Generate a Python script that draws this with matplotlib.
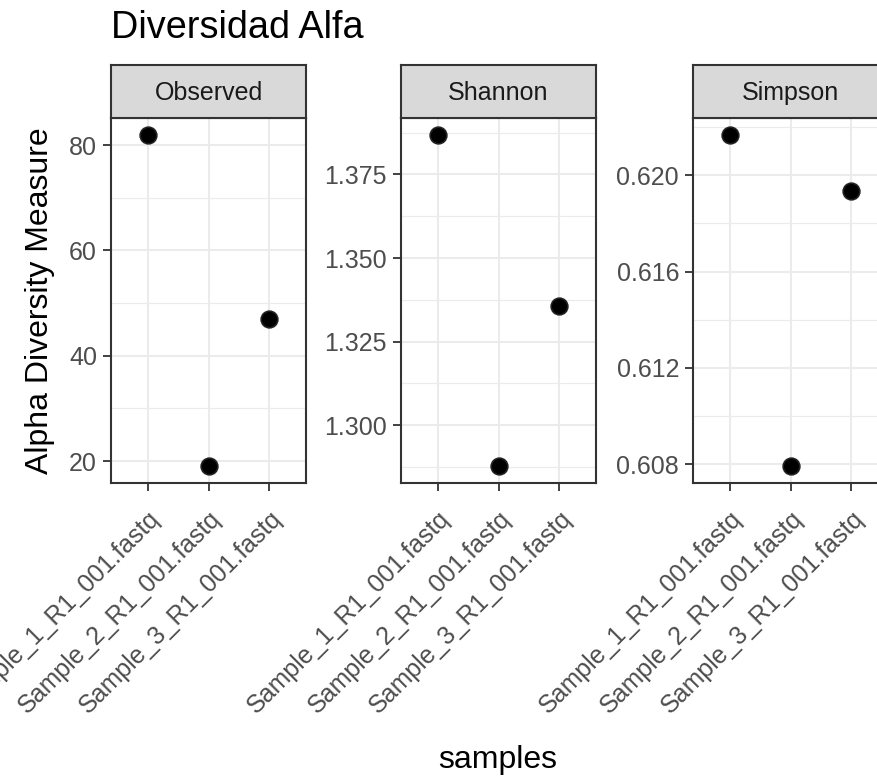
import matplotlib
matplotlib.use("Agg")
import matplotlib.pyplot as plt
from matplotlib.ticker import FixedLocator, FormatStrFormatter
import numpy as np

plt.rcParams['font.family'] = ['Liberation Sans', 'DejaVu Sans']

# ---- data ----
samples = ["Sample_1_R1_001.fastq", "Sample_2_R1_001.fastq", "Sample_3_R1_001.fastq"]
measures = ["Observed", "Shannon", "Simpson"]
observed = [82, 19, 47]
shannon = [1.3869, 1.2877, 1.3358]
simpson = [0.62169, 0.6079, 0.61936]
observed_ticks = [20, 40, 60, 80]
shannon_ticks = [1.300, 1.325, 1.350, 1.375]
simpson_ticks = [0.608, 0.612, 0.616, 0.620]

title = "Diversidad Alfa"
xlabel = "samples"
ylabel = "Alpha Diversity Measure"

W, H = 877, 776
fig = plt.figure(figsize=(W / 100, H / 100), dpi=100)

panel_left = [111, 401, 693]
panel_w = 195
panel_top, panel_bot = 118, 483
strip_top = 65

series = [observed, shannon, simpson]
ticks = [observed_ticks, shannon_ticks, simpson_ticks]
fmts = ["%d", "%.3f", "%.3f"]

grid_col = "#EBEBEB"
dark = "#333333"
tick_txt = "#4D4D4D"

for i, (name, vals, tk, fm) in enumerate(zip(measures, series, ticks, fmts)):
    l = panel_left[i]
    ax = fig.add_axes([l / W, 1 - panel_bot / H, panel_w / W, (panel_bot - panel_top) / H])
    x = np.arange(len(samples))
    vmin, vmax = min(vals), max(vals)
    pad = 0.05 * (vmax - vmin)
    ax.set_ylim(vmin - pad, vmax + pad)
    ax.set_xlim(-0.6, len(samples) - 1 + 0.6)
    step = tk[1] - tk[0]
    ax.yaxis.set_major_locator(FixedLocator(tk))
    minors = np.arange(tk[0] - step * 1.5, tk[-1] + step, step)
    ax.yaxis.set_minor_locator(FixedLocator(minors))
    ax.yaxis.set_major_formatter(FormatStrFormatter(fm))
    ax.set_xticks(x)
    ax.set_xticklabels(samples)
    ax.grid(True, which="major", color=grid_col, lw=1.5, zorder=0)
    ax.grid(True, which="minor", axis="y", color=grid_col, lw=0.8, zorder=0)
    ax.set_axisbelow(True)
    ax.plot(x, vals, "o", color="black", markeredgecolor="#222222",
            markeredgewidth=1.2, markersize=12, zorder=3, clip_on=False)
    for sp in ax.spines.values():
        sp.set_color(dark)
        sp.set_linewidth(1.5)
    ax.tick_params(axis="both", which="major", color=dark, width=1.3, length=6,
                   labelcolor=tick_txt, labelsize=18)
    ax.tick_params(axis="y", which="major", pad=4)
    ax.tick_params(axis="x", which="major", pad=11)
    ax.tick_params(axis="y", which="minor", length=0)
    for lbl in ax.get_xticklabels():
        lbl.set_rotation(45)
        lbl.set_ha("right")
        lbl.set_va("top")
        lbl.set_rotation_mode("anchor")

    # strip
    sax = fig.add_axes([l / W, 1 - panel_top / H, panel_w / W, (panel_top - strip_top) / H])
    sax.set_facecolor("#D9D9D9")
    sax.set_xticks([])
    sax.set_yticks([])
    for sp in sax.spines.values():
        sp.set_color(dark)
        sp.set_linewidth(1.5)
    sax.text(0.5, 0.48, name, ha="center", va="center", fontsize=18,
             color="#1A1A1A", transform=sax.transAxes)

fig.text(111 / W, 1 - 38 / H, title, fontsize=27.3, ha="left", va="baseline", color="black")
fig.text(40 / W, 1 - 300.5 / H, ylabel, fontsize=23, rotation=90, ha="center", va="center")
fig.text(498 / W, 1 - 768 / H, xlabel, fontsize=23, ha="center", va="baseline")

fig.savefig("out.png", dpi=100)
